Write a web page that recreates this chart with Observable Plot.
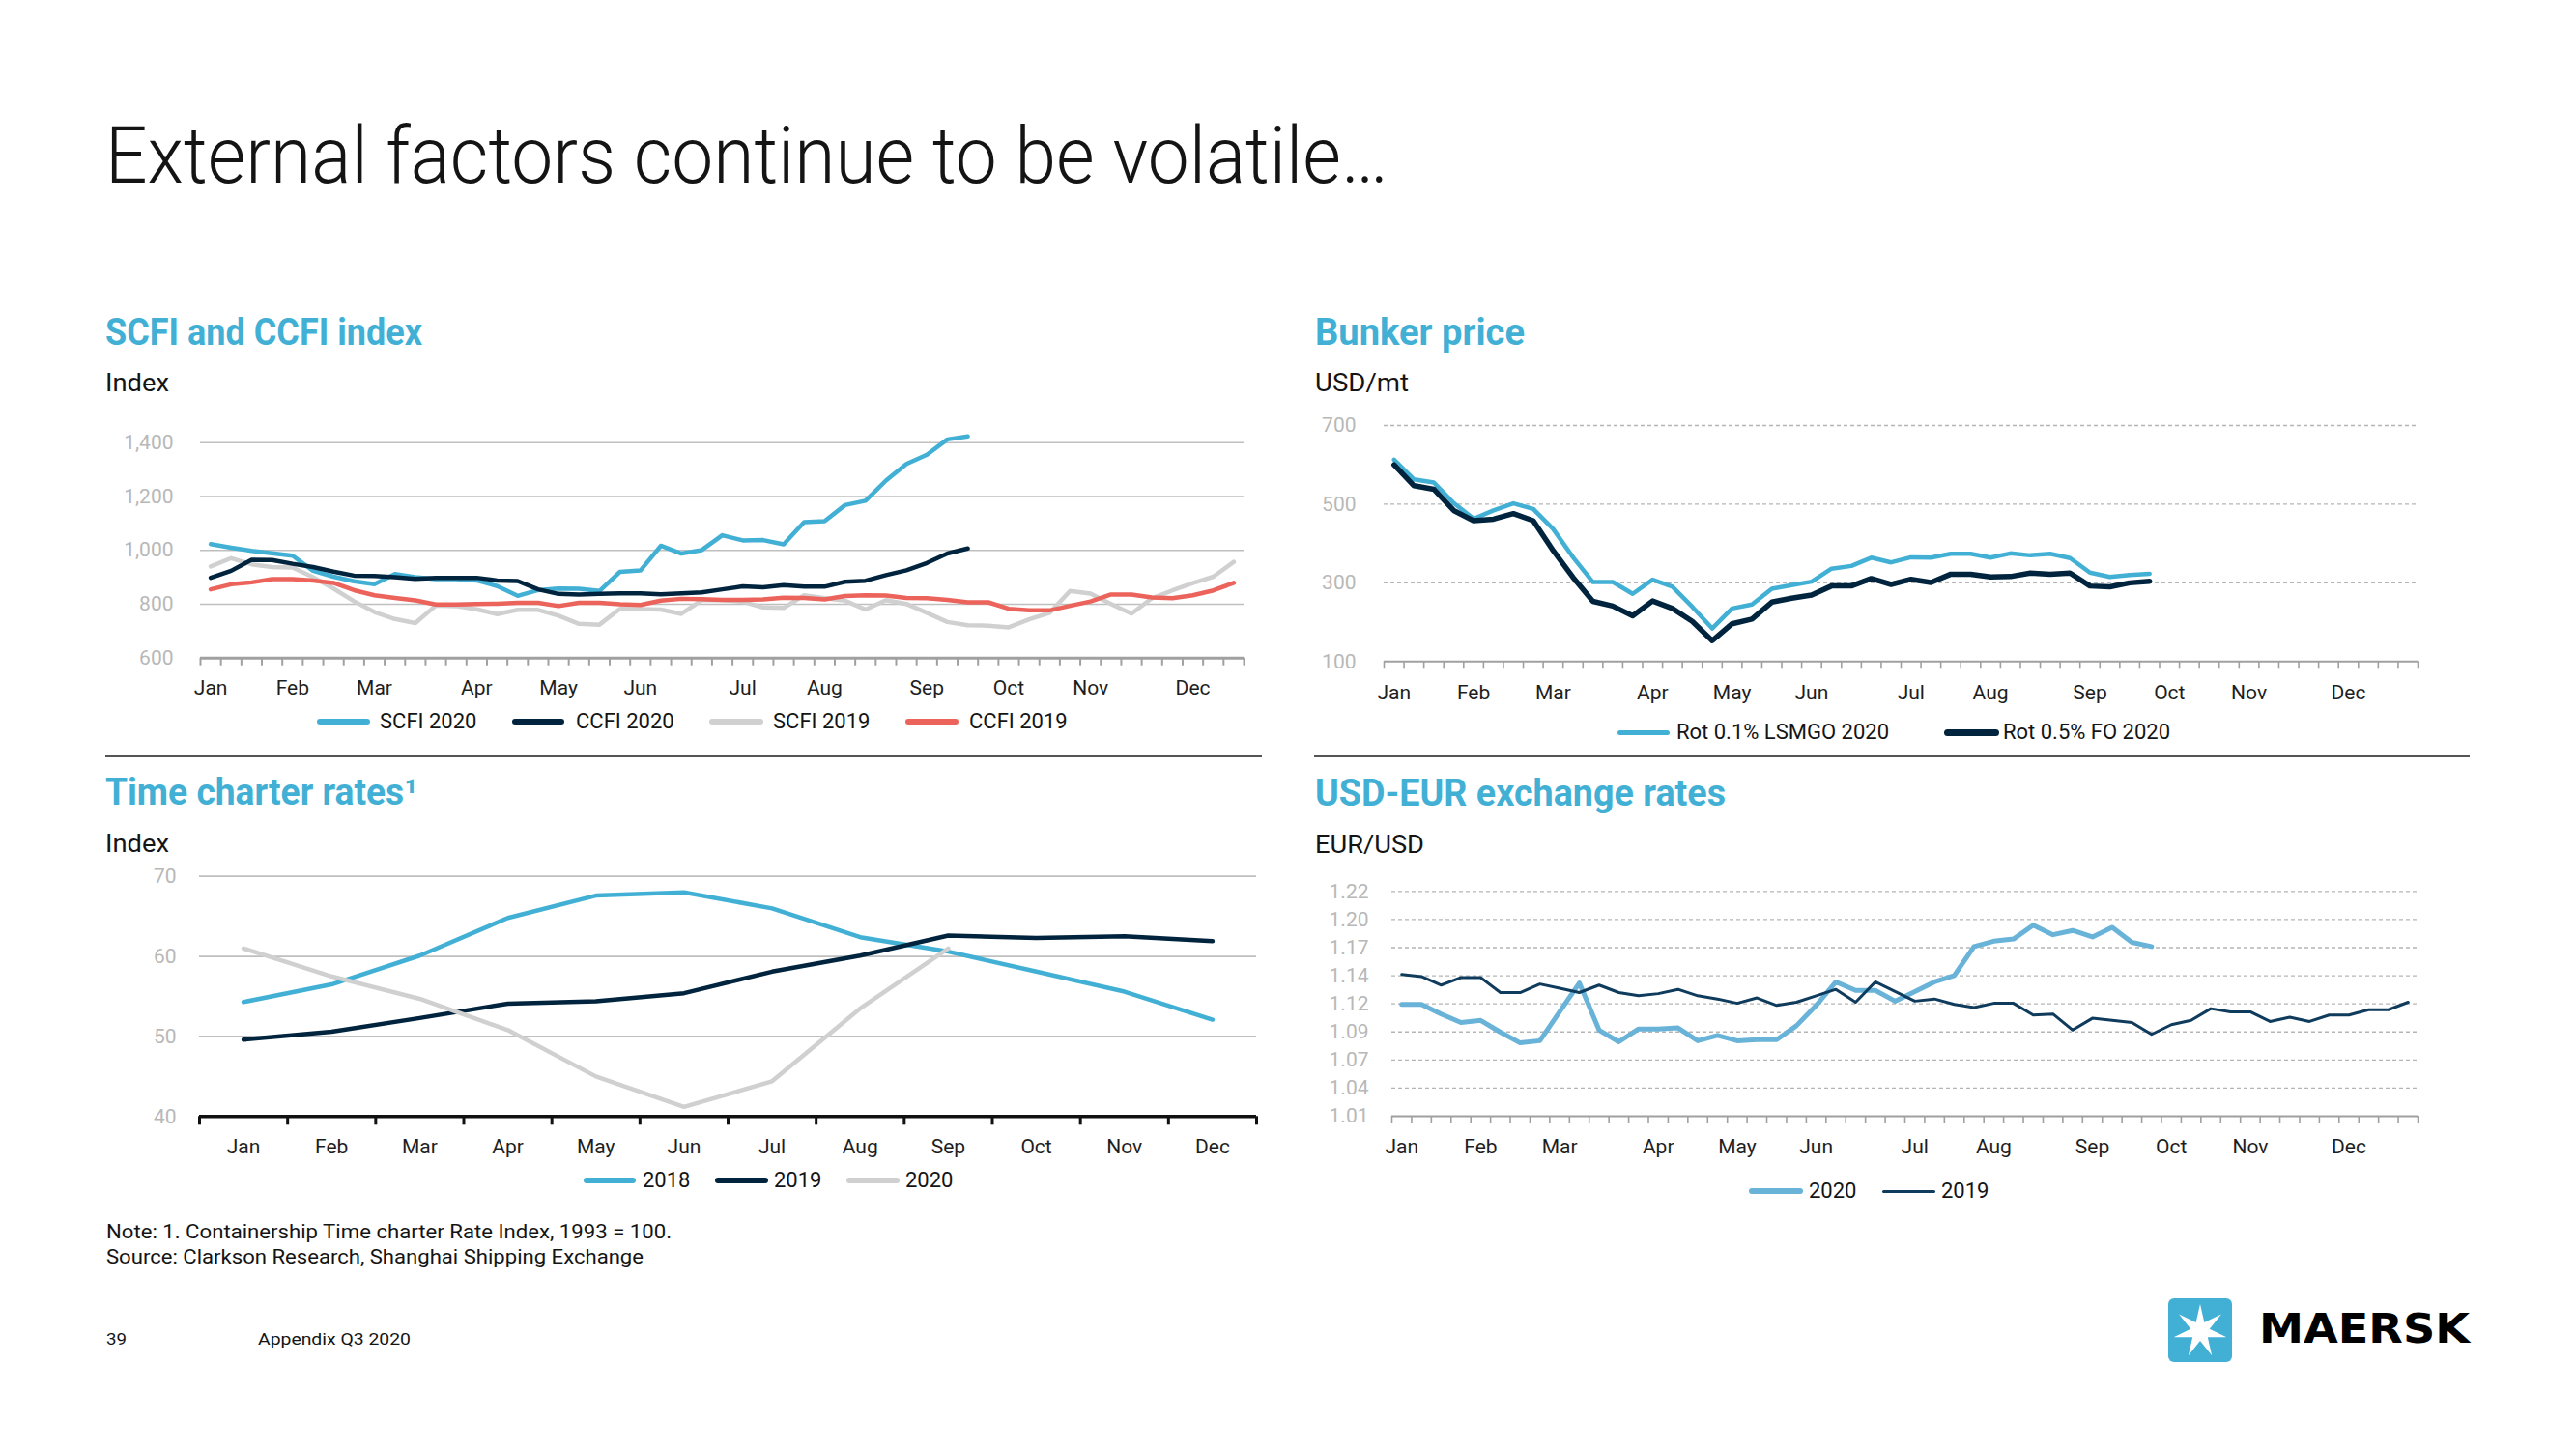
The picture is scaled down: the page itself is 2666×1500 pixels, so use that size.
<!DOCTYPE html>
<html><head><meta charset="utf-8">
<script src="https://cdn.jsdelivr.net/npm/d3@7"></script>
<script src="https://cdn.jsdelivr.net/npm/@observablehq/plot@0.6"></script>
<style>
html,body{margin:0;padding:0;background:#fff;}
body{width:2666px;height:1500px;position:relative;overflow:hidden;font-family:Roboto,"Open Sans",sans-serif;color:#1a1a1a;}
.abs{position:absolute;white-space:nowrap;line-height:1;transform-origin:0 0;}
.title{font-size:81px;font-weight:300;color:#141414;}
.head{font-size:38px;font-weight:700;color:#42B0D5;}
.unit{font-size:25px;color:#141414;}
.note{font-size:21px;color:#141414;}
.foot{font-size:17px;color:#141414;}
.legtxt{position:absolute;font-size:22px;line-height:1;white-space:nowrap;color:#141414;}
.sw{position:absolute;border-radius:4px;}
.chart{position:absolute;}
.divider{position:absolute;height:1.5px;background:#555;}
</style></head><body>

<div class="abs title" style="left:109px;top:121px" data-w="1328">External factors continue to be volatile…</div>

<div class="abs head" style="left:109px;top:325px" data-w="328">SCFI and CCFI index</div>
<div class="abs unit" style="left:109px;top:384px" data-w="66">Index</div>
<div class="abs head" style="left:1361px;top:325px" data-w="217">Bunker price</div>
<div class="abs unit" style="left:1361px;top:384px" data-w="97">USD/mt</div>

<div class="divider" style="left:109px;top:782px;width:1197px"></div>
<div class="divider" style="left:1360px;top:782px;width:1196px"></div>

<div class="abs head" style="left:109px;top:801px" data-w="323">Time charter rates¹</div>
<div class="abs unit" style="left:109px;top:861px" data-w="66">Index</div>
<div class="abs head" style="left:1361px;top:802px" data-w="425">USD-EUR exchange rates</div>
<div class="abs unit" style="left:1361px;top:862px" data-w="113">EUR/USD</div>

<div class="abs note" style="left:110px;top:1265px" data-w="585">Note: 1. Containership Time charter Rate Index, 1993 = 100.</div>
<div class="abs note" style="left:110px;top:1291px" data-w="556">Source: Clarkson Research, Shanghai Shipping Exchange</div>
<div class="abs foot" style="left:110px;top:1378px" data-w="21">39</div>
<div class="abs foot" style="left:267px;top:1378px" data-w="158">Appendix Q3 2020</div>

<svg id="logo" style="position:absolute;left:2244px;top:1344px" width="66" height="66" viewBox="0 0 66 66"></svg>
<div class="abs" id="maersk" style="left:2338px;top:1355px;font-family:'DejaVu Sans',sans-serif;font-weight:bold;font-size:42px;color:#000" data-w="218">MAERSK</div>

<div id="cA" class="chart" style="left:100px;top:440px"></div>
<div id="cB" class="chart" style="left:1340px;top:420px"></div>
<div id="cC" class="chart" style="left:100px;top:890px"></div>
<div id="cD" class="chart" style="left:1340px;top:900px"></div>

<script>
// ---------- DATA ----------
const months = ["Jan","Feb","Mar","Apr","May","Jun","Jul","Aug","Sep","Oct","Nov","Dec"];
const weekMonthIdx = [0,4,8,13,17,21,26,30,35,39,43,48];

// SCFI / CCFI weekly index
const scfi2020 = [1023,1010,998,989,980,924,902,885,874,912,900,893,893,888,867,831,852,858,857,849,920,925,1017,988,1001,1056,1037,1038,1022,1105,1108,1168,1184,1259,1321,1355,1412,1423];
const ccfi2020 = [898,924,965,964,950,938,921,906,905,900,894,898,898,898,888,886,855,838,836,838,840,840,837,840,844,855,866,863,871,865,865,883,887,908,926,953,988,1007];
const scfi2019 = [940,971,948,938,936,900,858,811,771,745,730,795,793,781,763,779,779,757,727,724,783,782,780,764,815,815,809,788,786,833,822,813,780,815,801,768,734,722,720,714,744,768,849,839,801,765,822,851,878,902,957];
const ccfi2019 = [855,874,881,893,893,888,879,852,833,823,814,799,799,801,802,805,805,793,805,805,800,797,813,820,819,816,816,818,824,823,818,830,833,832,823,822,816,807,807,783,777,777,794,810,836,836,825,822,833,851,879];
const indexTicks = [600,800,1000,1200,1400];

// Bunker price, USD/mt weekly
const lsmgo2020 = [613,563,555,503,463,484,502,488,437,365,302,302,272,308,290,239,184,235,245,285,294,303,336,343,364,352,365,364,374,374,364,375,370,374,363,326,315,320,323];
const fo2020 = [600,547,538,484,458,462,476,458,382,314,253,241,216,254,235,202,153,196,208,251,261,269,292,292,311,296,309,301,322,322,315,316,325,322,325,292,290,300,304];
const bunkerTicks = [100,300,500,700];

// Time charter rates, monthly index
const tc2018 = [54.3,56.5,60.1,64.8,67.6,68.0,66.0,62.4,60.6,58.1,55.6,52.1];
const tc2019 = [49.6,50.6,52.3,54.1,54.4,55.4,58.1,60.1,62.6,62.3,62.5,61.9];
const tc2020 = [61.0,57.5,54.7,50.8,45.0,41.2,44.4,53.5,61.0];
const tcTicks = [40,50,60,70];

// USD-EUR weekly
const fx2020 = [1.117,1.117,1.108,1.100,1.102,1.091,1.081,1.083,1.110,1.137,1.093,1.082,1.094,1.094,1.095,1.083,1.088,1.083,1.084,1.084,1.097,1.116,1.138,1.130,1.130,1.120,1.129,1.138,1.144,1.171,1.176,1.178,1.191,1.182,1.186,1.180,1.189,1.175,1.171];
const fx2019 = [1.145,1.143,1.135,1.142,1.142,1.128,1.128,1.136,1.132,1.128,1.135,1.128,1.125,1.127,1.131,1.125,1.122,1.118,1.123,1.116,1.119,1.125,1.131,1.119,1.138,1.129,1.120,1.122,1.117,1.114,1.118,1.118,1.107,1.108,1.093,1.104,1.102,1.100,1.089,1.098,1.102,1.113,1.110,1.110,1.101,1.105,1.101,1.107,1.107,1.112,1.112,1.119];
const fxTicks = [1.0125,1.03875,1.065,1.09125,1.1175,1.14375,1.17,1.19625,1.2225];
const fxTickLabels = ["1.01","1.04","1.07","1.09","1.12","1.14","1.17","1.20","1.22"];

// legend names
const legA = ["SCFI 2020","CCFI 2020","SCFI 2019","CCFI 2019"];
const legB = ["Rot 0.1% LSMGO 2020","Rot 0.5% FO 2020"];
const legC = ["2018","2019","2020"];
const legD = ["2020","2019"];

// ---------- STYLE ----------
const BLUE="#42B0D5", NAVY="#00243D", GREY="#D0D0D0", RED="#EB635B", FXBLUE="#69B3D9", FXNAVY="#0F3B5C";

const toPts = arr => arr.map((v,i)=>({i, v}));

function makeChart(cfg){
  const marks = [];
  marks.push(Plot.ruleY(cfg.grid, {y:d=>d, stroke:cfg.gridStroke, strokeWidth:cfg.gridWidth, strokeDasharray:cfg.gridDash}));
  marks.push(Plot.ruleY([cfg.yDomain[0]], {y:d=>d, stroke:cfg.axisStroke, strokeWidth:cfg.axisWidth}));
  marks.push(Plot.axisX({ticks: cfg.bounds, tickSize: cfg.tickSize, tickFormat: () => "", label: null, stroke: cfg.axisStroke, strokeWidth: cfg.tickWidth}));
  for (const s of cfg.series){
    marks.push(Plot.line(toPts(s.values), {x:"i", y:"v", stroke:s.color, strokeWidth:s.width, strokeLinejoin:"round", strokeLinecap:"round"}));
  }
  marks.push(Plot.text(cfg.labelIdx, {x:d=>d, text:(d,i)=>months[i], frameAnchor:"bottom", dy:cfg.labelDy, fill:"#1e1e1e", fontSize:21}));
  marks.push(Plot.text(cfg.yTicks, {y:d=>d, text:(d,i)=>cfg.yTickLabels[i], frameAnchor:"left", textAnchor:"end", dx:cfg.yDx, fill:"#b8b8b8", fontSize:21}));
  return Plot.plot({
    width: cfg.width, height: cfg.height,
    marginLeft: cfg.m[0], marginRight: cfg.m[1], marginTop: cfg.m[2], marginBottom: cfg.m[3],
    x: {domain: cfg.xDomain, axis: null, label: null},
    y: {domain: cfg.yDomain, axis: null, label: null},
    style: {fontFamily: "Roboto, 'Open Sans', sans-serif", fontSize: "21px", overflow: "visible", background: "transparent"},
    marks
  });
}

// Chart A: SCFI and CCFI
document.getElementById("cA").append(makeChart({
  width:1210, height:300, m:[107,23,17.7,59.3],
  xDomain:[-0.5,50.5], bounds: d3.range(-0.5, 51, 1),
  yDomain:[600,1400], grid:[800,1000,1200,1400], gridStroke:"#BFBFBF", gridWidth:1.6, gridDash:null,
  axisStroke:"#A0A0A0", axisWidth:3, tickSize:8, tickWidth:2,
  series:[
    {values:scfi2019, color:GREY, width:4.5},
    {values:ccfi2019, color:RED, width:4.5},
    {values:scfi2020, color:BLUE, width:4.5},
    {values:ccfi2020, color:NAVY, width:4.5}
  ],
  labelIdx: weekMonthIdx, labelDy:38,
  yTicks: indexTicks, yTickLabels: indexTicks.map(d3.format(",")), yDx:-28
}));

// Chart B: Bunker
document.getElementById("cB").append(makeChart({
  width:1220, height:320, m:[92,58,20,55.7],
  xDomain:[-0.5,51.5], bounds: d3.range(-0.5, 52, 1),
  yDomain:[100,700], grid:[300,500,700], gridStroke:"#B5B5B5", gridWidth:1.3, gridDash:"4,3",
  axisStroke:"#A0A0A0", axisWidth:2, tickSize:8, tickWidth:1.6,
  series:[
    {values:lsmgo2020, color:BLUE, width:4.5},
    {values:fo2020, color:NAVY, width:5.5}
  ],
  labelIdx: weekMonthIdx, labelDy:39,
  yTicks: bunkerTicks, yTickLabels: bunkerTicks.map(String), yDx:-29
}));

// Chart C: Time charter
document.getElementById("cC").append(makeChart({
  width:1210, height:320, m:[106,10,16.7,54.7],
  xDomain:[-0.5,11.5], bounds: d3.range(-0.5, 12, 1),
  yDomain:[40,70], grid:[50,60,70], gridStroke:"#BFBFBF", gridWidth:1.8, gridDash:null,
  axisStroke:"#111", axisWidth:3.5, tickSize:9, tickWidth:3,
  series:[
    {values:tc2018, color:BLUE, width:4.5},
    {values:tc2019, color:NAVY, width:4.5},
    {values:tc2020, color:GREY, width:4.5}
  ],
  labelIdx: d3.range(12), labelDy:38,
  yTicks: tcTicks, yTickLabels: tcTicks.map(String), yDx:-24
}));

// Chart D: USD-EUR
document.getElementById("cD").append(makeChart({
  width:1220, height:300, m:[100,58,22.3,45],
  xDomain:[-0.5,51.5], bounds: d3.range(-0.5, 52, 1),
  yDomain:[fxTicks[0], fxTicks[fxTicks.length-1]], grid:fxTicks.slice(1), gridStroke:"#B5B5B5", gridWidth:1.3, gridDash:"4,3",
  axisStroke:"#A0A0A0", axisWidth:2, tickSize:8, tickWidth:1.6,
  series:[
    {values:fx2020, color:FXBLUE, width:5},
    {values:fx2019, color:FXNAVY, width:3}
  ],
  labelIdx: weekMonthIdx, labelDy:38,
  yTicks: fxTicks, yTickLabels: fxTickLabels, yDx:-24
}));

// ---------- LEGENDS ----------
function legend(names, colors, widths, layout, cy){
  names.forEach((name,k)=>{
    const [sl, sr, tl] = layout[k];
    const sw = document.createElement("div");
    sw.className = "sw";
    sw.style.cssText = `left:${sl}px;top:${cy - widths[k]/2}px;width:${sr-sl}px;height:${widths[k]}px;background:${colors[k]}`;
    document.body.append(sw);
    const t = document.createElement("div");
    t.className = "legtxt";
    t.style.left = tl + "px";
    t.style.top = (cy - 11) + "px";
    t.textContent = name;
    document.body.append(t);
  });
}
legend(legA, [BLUE,NAVY,GREY,RED], [6,6,6,6], [[328,383,393],[530,584,596],[734,790,800],[937,992,1003]], 747);
legend(legB, [BLUE,NAVY], [5,7], [[1674,1728,1735],[2012,2069,2073]], 758);
legend(legC, [BLUE,NAVY,GREY], [6,6,6], [[604,658,665],[740,795,801],[876,931,937]], 1222);
legend(legD, [FXBLUE,FXNAVY], [6,3], [[1810,1866,1872],[1948,2003,2009]], 1233);

// ---------- LOGO ----------
(function(){
  const svg = d3.select("#logo");
  svg.append("rect").attr("width",66).attr("height",66).attr("rx",6).attr("fill",BLUE);
  const cx=33, cy=34, R=28, r=10, pts=[];
  for (let k=0;k<14;k++){
    const a = -Math.PI/2 + k*Math.PI/7;
    const rad = k%2===0 ? R : r;
    pts.push([cx+rad*Math.cos(a), cy+rad*Math.sin(a)]);
  }
  svg.append("polygon").attr("points", pts.map(p=>p.join(",")).join(" ")).attr("fill","#fff");
})();

// ---------- FIT TEXT WIDTHS ----------
function fitAll(){
  document.querySelectorAll("[data-w]").forEach(el=>{
    el.style.transform = "none";
    const w = el.getBoundingClientRect().width;
    if (w > 0) el.style.transform = `scaleX(${(+el.dataset.w)/w})`;
  });
}
fitAll();
if (document.fonts && document.fonts.ready) document.fonts.ready.then(fitAll);
</script>
</body></html>
